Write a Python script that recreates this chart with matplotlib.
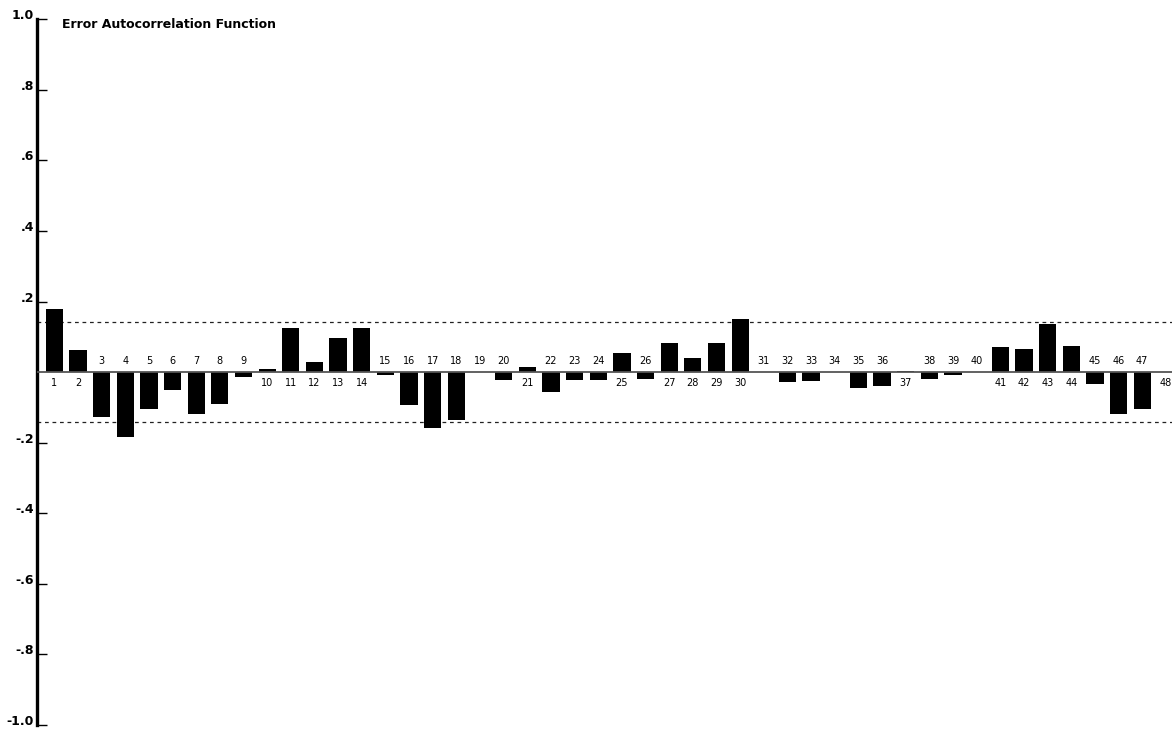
import matplotlib
matplotlib.use("Agg")
import matplotlib.pyplot as plt
from matplotlib.transforms import ScaledTranslation

# autocorrelation values per lag
lags = list(range(1, 49))
acf = [0.178, 0.063, -0.127, -0.183, -0.104, -0.050, -0.120, -0.089, -0.015, 0.009,
       0.124, 0.029, 0.098, 0.124, -0.009, -0.092, -0.158, -0.136, 0.0, -0.022,
       0.016, -0.057, -0.022, -0.022, 0.055, -0.018, 0.084, 0.039, 0.084, 0.150,
       0.0, -0.028, -0.025, 0.0, -0.044, -0.038, 0.004, -0.018, -0.008, 0.0,
       0.070, 0.067, 0.137, 0.073, -0.034, -0.120, -0.104, 0.001]
conf_band = 0.1416
ytick_vals = [1.0, 0.8, 0.6, 0.4, 0.2, -0.2, -0.4, -0.6, -0.8, -1.0]
ytick_labels = ["1.0", ".8", ".6", ".4", ".2", "-.2", "-.4", "-.6", "-.8", "-1.0"]
title = "Error Autocorrelation Function"

W, H = 1176, 729
fig = plt.figure(figsize=(W / 100, H / 100), dpi=100)
ax = fig.add_axes([37 / W, 4 / H, (1172 - 37) / W, (725 - 19.3) / H])

ax.bar(lags, acf, width=0.73, color="black", zorder=2)
ax.axhline(0, color="#555555", lw=1.3, zorder=3)
for b in (conf_band, -conf_band):
    ax.axhline(b, color="#222222", lw=0.9, ls=(0, (3, 3)), zorder=1)

for lag, v in zip(lags, acf):
    y = -0.032 if v > 0 else 0.032
    ax.text(lag, y, str(lag), ha="center", va="center", fontsize=7)

ax.set_xlim(0.268, 48.26)
ax.set_ylim(-1.0, 1.0)
ax.set_yticks(ytick_vals)
ax.set_yticklabels(ytick_labels, fontweight="bold", fontsize=9)
ax.tick_params(axis="y", direction="in", length=7, width=1, pad=2)
# labels sit a little above their ticks in the reference
shift = ScaledTranslation(0, 5 / 100, fig.dpi_scale_trans)
for lab in ax.get_yticklabels():
    lab.set_transform(lab.get_transform() + shift)
ax.set_xticks([])
ax.spines[["top", "right", "bottom"]].set_visible(False)
ax.spines["left"].set_linewidth(2.4)

ax.text(62 / W, 1 - 25 / H, title, transform=fig.transFigure, ha="left", va="center",
        fontsize=9, fontweight="bold")

fig.savefig("out.png", dpi=100)
